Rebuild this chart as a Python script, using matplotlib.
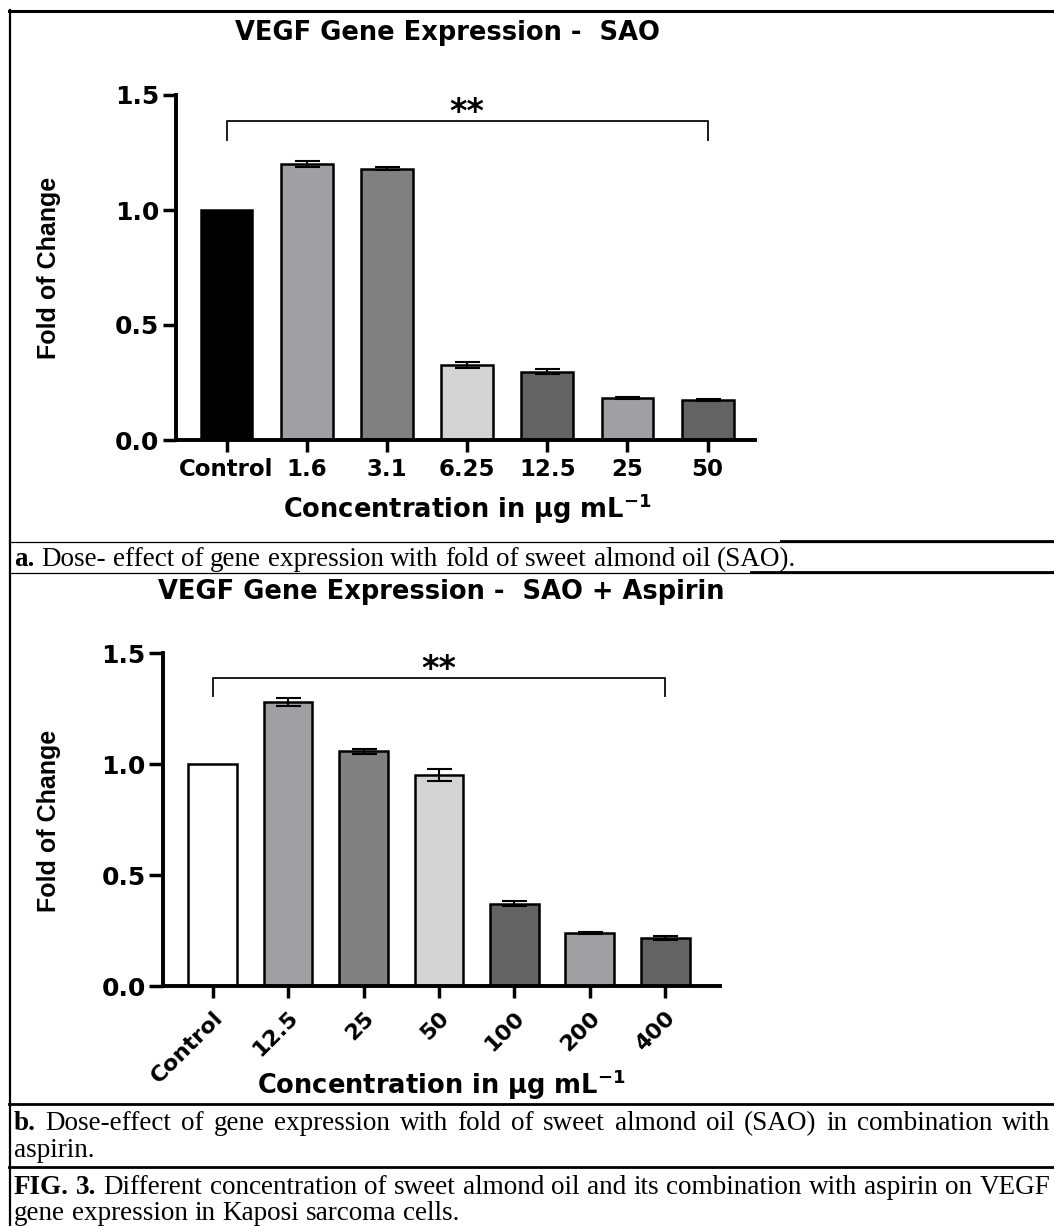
import numpy as np
import matplotlib
matplotlib.use('Agg')
import matplotlib.pyplot as plt
from matplotlib.lines import Line2D
from matplotlib.ticker import FormatStrFormatter

W, H = 1054, 1226

# panel a: SAO alone
sao_labels = ['Control', '1.6', '3.1', '6.25', '12.5', '25', '50']
sao_fold = [1.0, 1.202, 1.18, 0.324, 0.297, 0.182, 0.175]
sao_err = [0.0, 0.013, 0.008, 0.013, 0.012, 0.005, 0.005]
sao_colors = ['#000000', '#a0a0a4', '#808080', '#d4d4d4', '#636363', '#a0a0a4', '#636363']
sao_bracket = [1.305, 1.387]

# panel b: SAO + aspirin
asp_labels = ['Control', '12.5', '25', '50', '100', '200', '400']
asp_fold = [1.0, 1.28, 1.057, 0.951, 0.370, 0.238, 0.216]
asp_err = [0.0, 0.019, 0.011, 0.026, 0.011, 0.005, 0.011]
asp_colors = ['#ffffff', '#a0a0a4', '#808080', '#d4d4d4', '#636363', '#a0a0a4', '#636363']
asp_bracket = [1.306, 1.388]

titles = ['VEGF Gene Expression -  SAO', 'VEGF Gene Expression -  SAO + Aspirin']
xlab = 'Concentration in \u03bcg mL$^{-1}$'
ylab = 'Fold of Change'
cap_a = 'a. Dose- effect of gene expression with fold of sweet almond oil (SAO).'
cap_b1 = 'b. Dose-effect of gene expression with fold of sweet almond oil (SAO) in combination with'
cap_b2 = 'aspirin.'
cap_f1 = 'FIG. 3. Different concentration of sweet almond oil and its combination with aspirin on VEGF'
cap_f2 = 'gene expression in Kaposi sarcoma cells.'

plt.rcParams['mathtext.default'] = 'bf'
plt.rcParams['font.family'] = 'DejaVu Sans'

CAP_SIZE = 19.5


def px(x, y):
    return x / W, 1 - y / H


fig = plt.figure(figsize=(W / 100, H / 100), dpi=100)


def bar_panel(rect, labels, vals, errs, colors, xlim, bracket, rotate, ylen):
    ax = fig.add_axes(rect)
    x = np.arange(len(labels))
    vals = np.array(vals)
    errs = np.array(errs)
    ax.bar(x, vals, width=0.645, color=colors, edgecolor='black', linewidth=1.8, zorder=2)
    m = errs > 0
    ax.errorbar(x[m], vals[m], yerr=errs[m], fmt='none', ecolor='black',
                elinewidth=1.5, capsize=9, capthick=1.5, zorder=3)
    ax.plot([0, 0, 6, 6], [bracket[0], bracket[1], bracket[1], bracket[0]],
            color='#1a1a1a', lw=1.4, zorder=3)
    ax.text(3, bracket[1] - 0.004, '**', ha='center', va='baseline',
            fontsize=24, fontweight='bold')
    ax.set_xlim(xlim)
    ax.set_ylim(0, 1.5)
    ax.set_yticks([0, 0.5, 1.0, 1.5])
    ax.yaxis.set_major_formatter(FormatStrFormatter('%.1f'))
    ax.set_xticks(x)
    for s in ['top', 'right']:
        ax.spines[s].set_visible(False)
    for s in ['left', 'bottom']:
        ax.spines[s].set_linewidth(2.8)
        ax.spines[s].set_zorder(4)
    ax.tick_params(axis='y', length=ylen, width=2.5, pad=2.5, labelsize=18)
    if rotate:
        ax.set_xticklabels(labels, rotation=45, ha='right', rotation_mode='anchor')
        ax.tick_params(axis='x', length=8.5, width=2.5, pad=7, labelsize=16)
    else:
        ax.set_xticklabels(labels)
        ax.tick_params(axis='x', length=8.5, width=2.5, pad=4.5, labelsize=16.5)
    for t in ax.get_xticklabels() + ax.get_yticklabels():
        t.set_fontweight('bold')
    return ax


ax1 = bar_panel([176 / W, 1 - 440 / H, (755 - 176) / W, (440 - 95) / H],
                sao_labels, sao_fold, sao_err, sao_colors, (-0.63, 6.59),
                sao_bracket, False, 9.5)
ax2 = bar_panel([163 / W, 1 - 986 / H, (719.5 - 163) / W, (986 - 653) / H],
                asp_labels, asp_fold, asp_err, asp_colors, (-0.66, 6.72),
                asp_bracket, True, 10)

# titles and axis labels
fig.text(*px(447, 40), titles[0], ha='center', va='baseline', fontsize=18.5, fontweight='bold')
fig.text(*px(441, 599), titles[1], ha='center', va='baseline', fontsize=18.5, fontweight='bold')
fig.text(*px(467, 518), xlab, ha='center', va='baseline', fontsize=18.5, fontweight='bold')
fig.text(*px(441, 1094), xlab, ha='center', va='baseline', fontsize=18.5, fontweight='bold')
fig.text(*px(49, 268), ylab, ha='center', va='center', rotation=90, fontsize=18,
         fontweight='bold', family='Liberation Sans')
fig.text(*px(49, 821), ylab, ha='center', va='center', rotation=90, fontsize=18,
         fontweight='bold', family='Liberation Sans')


# table borders
def hline(y, x0, x1, lw):
    fig.add_artist(Line2D([x0 / W, x1 / W], [1 - y / H, 1 - y / H], color='black', lw=lw))


hline(11, 9, W, 2.2)
hline(542, 9, W, 0.9)
hline(541, 781, W, 2.0)
hline(573, 9, W, 0.9)
hline(572, 751, W, 2.0)
hline(1104, 9, W, 2.0)
hline(1167, 9, W, 2.0)
fig.add_artist(Line2D([10 / W, 10 / W], [1 - 10 / H, 0], color='black', lw=1.6))

# captions
rend = fig.canvas.get_renderer()


def text_width(s, bold):
    t = fig.text(0, 0, s, fontsize=CAP_SIZE, family='Liberation Serif',
                 weight='bold' if bold else 'normal')
    w = t.get_window_extent(rend).width
    t.remove()
    return w


space_w = text_width('a a', False) - text_width('aa', False)


def caption_line(y, text, nbold=0, x0=14, x1=None):
    words = text.split(' ')
    arts, widths = [], []
    for i, w in enumerate(words):
        t = fig.text(0, 0, w, fontsize=CAP_SIZE, family='Liberation Serif',
                     weight='bold' if i < nbold else 'normal', va='baseline', ha='left')
        arts.append(t)
        widths.append(t.get_window_extent(rend).width)
    gap = space_w if x1 is None else (x1 - x0 - sum(widths)) / (len(words) - 1)
    x = x0
    for t, w in zip(arts, widths):
        t.set_position(px(x, y))
        x += w + gap


caption_line(566, cap_a, nbold=1)
caption_line(1130, cap_b1, nbold=1, x1=1050)
caption_line(1157, cap_b2)
caption_line(1194, cap_f1, nbold=2, x1=1050)
caption_line(1220, cap_f2)

fig.savefig('out.png', dpi=100)
